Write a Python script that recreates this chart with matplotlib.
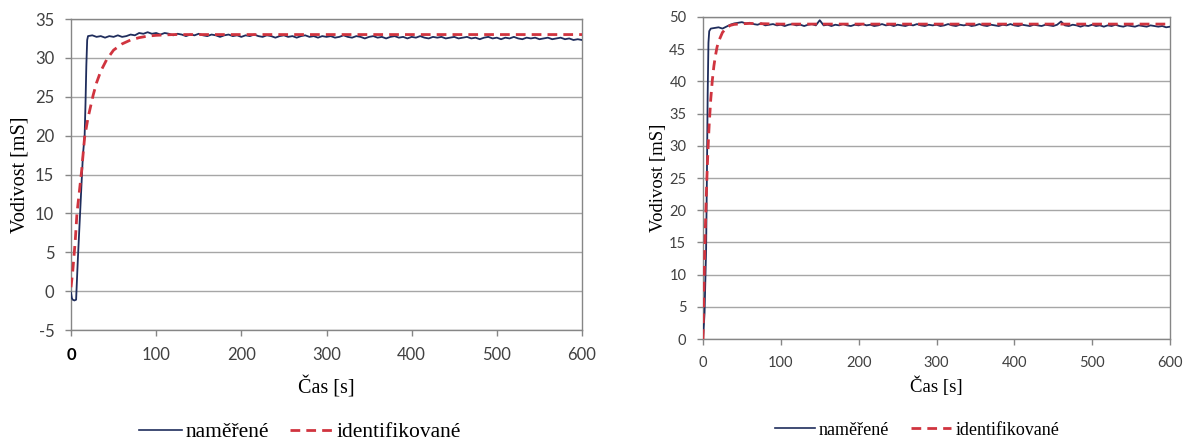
#!/usr/bin/env python3
"""
Two step responses: measured vs identified conductivity (Vodivost) over time
"""

import matplotlib
matplotlib.use('Agg')
import matplotlib.pyplot as plt
from matplotlib.lines import Line2D

# ---- left chart data ----
left_meas_t_start = [0, 1, 2, 4, 6, 7, 8, 10, 12, 14, 16, 17, 18, 19, 20]
left_meas_v_start = [-0.2, -0.9, -1.1, -1.2, -1.1, 1.5, 4.0, 8.5, 13.0, 17.5, 20.0, 24.0, 29.0, 32.3, 32.8]
left_meas_t_plateau = list(range(25, 605, 5))
left_meas_v_plateau = [
    32.9, 32.7, 32.8, 32.6, 32.8, 32.7, 32.9, 32.7, 32.8, 33.0,
    32.9, 33.2, 33.1, 33.3, 33.1, 33.2, 33.0, 33.2, 33.1, 32.9,
    33.1, 33.0, 32.8, 33.0, 32.9, 33.1, 32.9, 32.8, 33.0, 32.9,
    32.7, 32.9, 33.0, 32.8, 32.9, 32.7, 32.9, 32.8, 33.0, 32.8,
    32.7, 32.9, 32.8, 32.6, 32.8, 32.9, 32.7, 32.8, 32.6, 32.8,
    32.9, 32.7, 32.8, 32.6, 32.8, 32.7, 32.8, 32.6, 32.7, 32.9,
    32.7, 32.6, 32.8, 32.7, 32.5, 32.7, 32.8, 32.6, 32.7, 32.5,
    32.7, 32.8, 32.6, 32.7, 32.5, 32.7, 32.6, 32.8, 32.6, 32.5,
    32.7, 32.6, 32.7, 32.5, 32.6, 32.7, 32.5, 32.6, 32.7, 32.5,
    32.6, 32.4, 32.6, 32.7, 32.5, 32.6, 32.4, 32.6, 32.5, 32.7,
    32.5, 32.4, 32.6, 32.5, 32.6, 32.4, 32.5, 32.6, 32.4, 32.5,
    32.6, 32.4, 32.5, 32.3, 32.4, 32.3,
]
left_ident_t = [0, 2, 5, 7, 10, 12.5, 16, 20, 26, 30, 35, 42, 50, 60, 70, 80, 90, 100, 120, 600]
left_ident_v = [0.5, 2.5, 6.5, 10.0, 13.0, 15.5, 19.8, 22.3, 25.2, 26.8, 28.3, 29.8, 31.0, 31.8,
                32.3, 32.6, 32.8, 32.9, 33.0, 33.0]

# ---- right chart data ----
right_meas_t_start = [0, 2, 4, 5, 6, 7, 8, 10]
right_meas_v_start = [0, 4, 14, 25, 38, 46, 47.8, 48.2]
right_meas_t_plateau = list(range(15, 605, 5))
right_meas_v_plateau = [
    48.3, 48.4, 48.2, 48.5, 48.8, 49.0, 49.1, 49.2, 49.0, 49.1,
    48.9, 48.8, 49.0, 48.7, 48.8, 48.9, 48.7, 48.8, 48.6, 48.8,
    48.9, 48.7, 48.8, 48.6, 48.8, 48.9, 48.7, 49.5, 48.7, 48.8,
    48.6, 48.8, 48.7, 48.9, 48.7, 48.6, 48.8, 48.7, 48.9, 48.7,
    48.8, 48.6, 48.7, 48.9, 48.7, 48.8, 48.6, 48.8, 48.7, 48.6,
    48.8, 48.7, 48.9, 48.7, 48.6, 48.8, 48.7, 48.8, 48.6, 48.7,
    48.9, 48.7, 48.6, 48.8, 48.7, 48.8, 48.6, 48.7, 48.9, 48.7,
    48.6, 48.8, 48.7, 48.6, 48.8, 48.7, 48.9, 48.7, 48.6, 48.8,
    48.7, 48.6, 48.8, 48.7, 48.6, 48.8, 48.7, 48.6, 48.8, 49.3,
    48.7, 48.6, 48.8, 48.7, 48.5, 48.7, 48.6, 48.8, 48.6, 48.7,
    48.5, 48.7, 48.6, 48.8, 48.6, 48.5, 48.7, 48.6, 48.5, 48.7,
    48.6, 48.5, 48.7, 48.6, 48.5, 48.6, 48.4, 48.5,
]
right_ident_t = [0, 1, 2, 3, 4, 5, 6, 7, 8, 10, 12, 14, 16, 18, 20, 25, 30, 35, 40, 50, 60, 80, 100, 600]
right_ident_v = [0, 6.5, 12.2, 17.1, 21.3, 25.0, 28.2, 31.0, 33.4, 37.3, 40.2, 42.4, 44.0, 45.3,
                 46.2, 47.6, 48.3, 48.7, 48.85, 48.95, 49.0, 48.95, 48.9, 48.9]

x_ticks = [0, 100, 200, 300, 400, 500, 600]
left_y_ticks = [-5, 0, 5, 10, 15, 20, 25, 30, 35]
right_y_ticks = [0, 5, 10, 15, 20, 25, 30, 35, 40, 45, 50]

MEAS_COLOR = '#1F2D5C'
IDENT_COLOR = '#D0343F'
GRID_COLOR = '#A6A6A6'
SPINE_COLOR = '#868686'
TICK_COLOR = '#404040'
SERIF = 'Liberation Serif'
SANS = 'Lato'

plt.rcParams['font.family'] = [SANS, 'DejaVu Sans']

fig = plt.figure(figsize=(11.89, 4.44), dpi=100)
fig.patch.set_facecolor('white')

ax_l = fig.add_axes([71 / 1189, 114 / 444, 511 / 1189, 311 / 444])
ax_r = fig.add_axes([703 / 1189, 105 / 444, 467 / 1189, 322 / 444])


def draw_panel(ax, meas_t, meas_v, ident_t, ident_v, y_ticks, tick_fs, label_fs,
               ylabel_x, xlabel_y, bold_zero):
    ax.plot(meas_t, meas_v, color=MEAS_COLOR, linewidth=1.3, zorder=3)
    ax.plot(ident_t, ident_v, color=IDENT_COLOR, linewidth=2.0,
            linestyle=(0, (3.5, 2.2)), zorder=4)

    ax.set_xlim(0, 600)
    ax.set_ylim(y_ticks[0], y_ticks[-1])
    ax.set_xticks(x_ticks)
    ax.set_yticks(y_ticks)
    ax.set_xticklabels([str(v) for v in x_ticks])
    ax.set_yticklabels([str(v) for v in y_ticks])

    ax.grid(True, axis='y', color=GRID_COLOR, linewidth=1.0)
    ax.set_axisbelow(True)

    for spine in ax.spines.values():
        spine.set_color(SPINE_COLOR)
        spine.set_linewidth(1.0)

    ax.tick_params(axis='both', direction='out', length=4, width=1,
                   color=SPINE_COLOR, labelcolor=TICK_COLOR, labelsize=tick_fs)
    ax.tick_params(axis='y', pad=8)
    ax.tick_params(axis='x', pad=8)
    if bold_zero:
        lbl = ax.get_xticklabels()[0]
        lbl.set_fontweight('bold')
        lbl.set_color('#000000')

    ax.set_ylabel('Vodivost [mS]', fontfamily=SERIF, fontsize=label_fs, color='#000000')
    ax.set_xlabel('Čas [s]', fontfamily=SERIF, fontsize=label_fs, color='#000000')
    ax.yaxis.set_label_coords(ylabel_x, 0.5)
    ax.xaxis.set_label_coords(0.5, xlabel_y)


draw_panel(ax_l, left_meas_t_start + left_meas_t_plateau,
           left_meas_v_start + left_meas_v_plateau,
           left_ident_t, left_ident_v, left_y_ticks, 12, 14.5,
           -0.082, -0.15, True)
draw_panel(ax_r, right_meas_t_start + right_meas_t_plateau,
           right_meas_v_start + right_meas_v_plateau,
           right_ident_t, right_ident_v, right_y_ticks, 10.5, 13.5,
           -0.078, -0.118, False)


# Legends below each chart
def add_legend(center_x, center_y, fs, handlelen, textpad, colspace):
    handles = [
        Line2D([], [], color=MEAS_COLOR, linewidth=1.2),
        Line2D([], [], color=IDENT_COLOR, linewidth=2.0, linestyle=(0, (3.5, 2.2))),
    ]
    fig.legend(handles, ['naměřené', 'identifikované'],
               loc='center', bbox_to_anchor=(center_x / 1189, 1 - center_y / 444),
               ncol=2, frameon=False, prop={'family': SERIF, 'size': fs},
               handlelength=handlelen, handletextpad=textpad, columnspacing=colspace,
               borderpad=0)


add_legend(300, 432, 15.5, 2.0, 0.15, 1.0)
add_legend(917, 430, 13, 2.2, 0.25, 1.2)

fig.savefig('out.png', dpi=100, facecolor='white')
